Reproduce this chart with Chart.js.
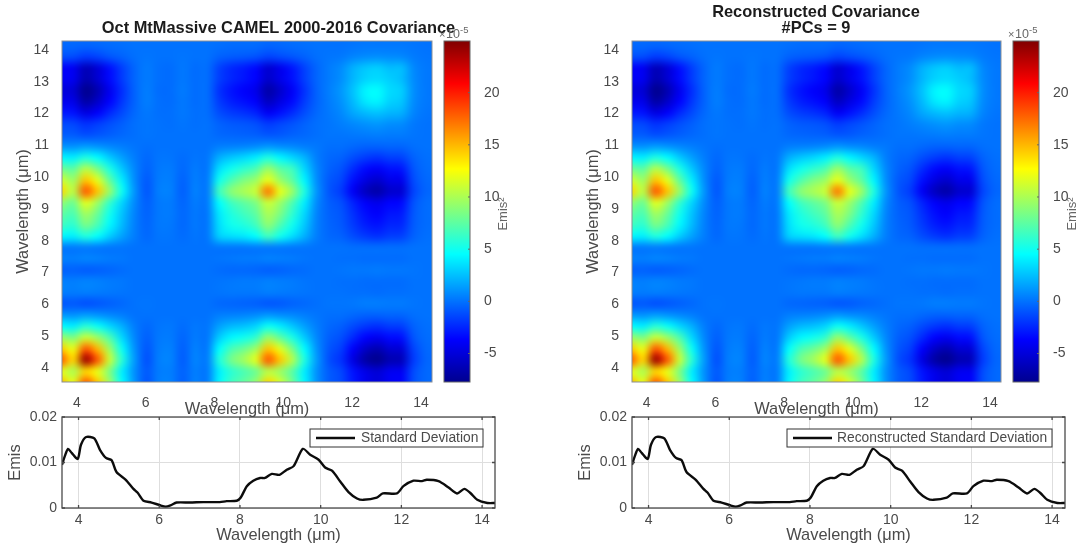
<!DOCTYPE html>
<html>
<head>
<meta charset="utf-8">
<title>CAMEL covariance</title>
<script src="https://cdn.jsdelivr.net/npm/chart.js@4"></script>
<style>
html, body { margin: 0; padding: 0; background: #fff; }
#page { position: relative; width: 1082px; height: 550px; overflow: hidden; }
canvas { position: absolute; filter: blur(0.65px); }
</style>
</head>
<body>
<div id="page"></div>
<script>
// Wavelength of each covariance cell (um), same on both axes
const cellWavelengths = [3.543, 3.896, 4.25, 4.603, 4.956, 5.31, 5.663, 6.016, 6.37, 6.723, 7.076, 7.43, 7.783, 8.136, 8.49, 8.843, 9.196, 9.55, 9.903, 10.256, 10.61, 10.963, 11.316, 11.67, 12.023, 12.376, 12.73, 13.083, 13.436, 13.79, 14.143];

// Covariance, x 1e-5, one row per wavelength
const covOriginal = [
[15,12,18,14.5,9.5,4.5,1.2,-1,.4,.5,-.6,.5,.2,4.3,6.5,7.6,9.2,14,11.3,8.1,4.3,1.1,-.7,-1.3,-2.9,-4.3,-5,-4,-3.8,-1.1,-.3],
[12,10,14,12,8.5,4,1,-.8,.3,.4,-.5,.4,.2,4,5.9,6.9,8,10.5,9.5,7.4,4,1,-.7,-1.4,-3.1,-4.5,-5.2,-4.2,-4.1,-1.2,-.3],
[18,14,24,18,11,5.8,1.4,-1.1,.4,.6,-.7,.6,.3,5.5,8.3,9.7,11.8,18,14.6,10.4,5.5,1.4,-1.1,-2.1,-4.7,-6.9,-8,-6.5,-6.2,-1.8,-.4],
[14.5,12,18,15,9.5,4.8,1.1,-.9,.3,.5,-.6,.5,.2,4.5,6.8,7.9,9.6,14.6,11.8,8.4,4.5,1.1,-.9,-1.7,-3.8,-5.6,-6.5,-5.3,-5.1,-1.5,-.3],
[9.5,8.5,11,9.5,7,3.3,.7,-.6,.2,.3,-.4,.3,.1,2.9,4.3,5,6.1,9.4,7.6,5.4,2.9,.7,-.6,-1.1,-2.4,-3.6,-4.2,-3.4,-3.2,-.9,-.2],
[4.5,4,5.8,4.8,3.3,2,.4,-.3,.1,.2,-.2,.2,.1,1.5,2.3,2.6,3.2,4.9,4,2.8,1.5,.4,-.3,-.6,-1.3,-1.9,-2.2,-1.8,-1.7,-.5,-.1],
[1.2,1,1.4,1.1,.7,.4,0,0,0,0,0,0,0,.4,.5,.6,.8,1.2,.9,.7,.4,.1,-.1,-.1,-.3,-.5,-.5,-.4,-.4,-.1,0],
[-1,-.8,-1.1,-.9,-.6,-.3,0,.1,0,0,0,0,0,-.3,-.4,-.5,-.6,-.9,-.8,-.5,-.3,-.1,.1,.1,.2,.4,.4,.3,.3,.1,0],
[.4,.3,.4,.3,.2,.1,0,0,0,0,0,0,0,.1,.2,.2,.2,.4,.3,.2,.1,0,0,0,-.1,-.1,-.2,-.1,-.1,0,0],
[.5,.4,.6,.5,.3,.2,0,0,0,0,0,0,0,.1,.2,.3,.3,.5,.4,.3,.1,0,0,-.1,-.1,-.2,-.2,-.2,-.2,0,0],
[-.6,-.5,-.7,-.6,-.4,-.2,0,0,0,0,0,0,0,-.2,-.3,-.3,-.4,-.6,-.5,-.3,-.2,0,0,.1,.2,.2,.3,.2,.2,.1,0],
[.5,.4,.6,.5,.3,.2,0,0,0,0,0,0,0,.1,.2,.3,.3,.5,.4,.3,.1,0,0,-.1,-.1,-.2,-.2,-.2,-.2,0,0],
[.2,.2,.3,.2,.1,.1,0,0,0,0,0,0,0,.1,.1,.1,.2,.2,.2,.1,.1,0,0,0,-.1,-.1,-.1,-.1,-.1,0,0],
[4.3,4,5.5,4.5,2.9,1.5,.4,-.3,.1,.1,-.2,.1,.1,3,3.5,3.8,4.5,6.5,5,3.5,2,.4,-.3,-.5,-1.2,-1.8,-2.1,-1.7,-1.6,-.5,-.1],
[6.5,5.9,8.3,6.8,4.3,2.3,.5,-.4,.2,.2,-.3,.2,.1,3.5,5,5.5,6.5,9,7,5,2.8,.5,-.4,-.8,-1.8,-2.7,-3.1,-2.5,-2.4,-.7,-.2],
[7.6,6.9,9.7,7.9,5,2.6,.6,-.5,.2,.3,-.3,.2,.1,3.8,5.5,6.5,7.5,10,8.5,6,3.3,.6,-.5,-.9,-2.1,-3.2,-3.7,-3,-2.8,-.8,-.2],
[9.2,8,11.8,9.6,6.1,3.2,.8,-.6,.2,.3,-.4,.3,.2,4.5,6.5,7.5,8.5,11,9.5,7,4,.8,-.6,-1.1,-2.6,-3.8,-4.4,-3.6,-3.4,-1,-.2],
[14,10.5,18,14.6,9.4,4.9,1.2,-.9,.4,.5,-.6,.5,.2,6.5,9,10,11,17,12,9.5,5.5,1.2,-.9,-1.8,-4,-5.9,-6.8,-5.5,-5.3,-1.5,-.4],
[11.3,9.5,14.6,11.8,7.6,4,.9,-.8,.3,.4,-.5,.4,.2,5,7,8.5,9.5,12,9.5,7.5,4.3,.9,-.8,-1.4,-3.2,-4.7,-5.5,-4.4,-4.3,-1.2,-.3],
[8.1,7.4,10.4,8.4,5.4,2.8,.7,-.5,.2,.3,-.3,.3,.1,3.5,5,6,7,9.5,7.5,6.5,3.3,.7,-.5,-1,-2.3,-3.4,-3.9,-3.2,-3,-.9,-.2],
[4.3,4,5.5,4.5,2.9,1.5,.4,-.3,.1,.1,-.2,.1,.1,2,2.8,3.3,4,5.5,4.3,3.3,2.2,.4,-.3,-.5,-1.2,-1.8,-2.1,-1.7,-1.6,-.5,-.1],
[1.1,1,1.4,1.1,.7,.4,.1,-.1,0,0,0,0,0,.4,.5,.6,.8,1.2,.9,.7,.4,.2,-.1,-.1,-.3,-.5,-.5,-.4,-.4,-.1,0],
[-.7,-.7,-1.1,-.9,-.6,-.3,-.1,.1,0,0,0,0,0,-.3,-.4,-.5,-.6,-.9,-.8,-.5,-.3,-.1,.1,.1,.2,.3,.4,.3,.3,.1,0],
[-1.3,-1.4,-2.1,-1.7,-1.1,-.6,-.1,.1,0,-.1,.1,-.1,0,-.5,-.8,-.9,-1.1,-1.8,-1.4,-1,-.5,-.1,.1,.4,.7,1,1.2,.9,.8,.2,0],
[-2.9,-3.1,-4.7,-3.8,-2.4,-1.3,-.3,.2,-.1,-.1,.2,-.1,-.1,-1.2,-1.8,-2.1,-2.6,-4,-3.2,-2.3,-1.2,-.3,.2,.7,1.7,2.3,2.6,2.2,2,.6,.1],
[-4.3,-4.5,-6.9,-5.6,-3.6,-1.9,-.5,.4,-.1,-.2,.2,-.2,-.1,-1.8,-2.7,-3.2,-3.8,-5.9,-4.7,-3.4,-1.8,-.5,.3,1,2.3,3.8,4.2,3.1,2.7,.8,.2],
[-5,-5.2,-8,-6.5,-4.2,-2.2,-.5,.4,-.2,-.2,.3,-.2,-.1,-2.1,-3.1,-3.7,-4.4,-6.8,-5.5,-3.9,-2.1,-.5,.4,1.2,2.6,4.2,4.6,3.4,3,.9,.2],
[-4,-4.2,-6.5,-5.3,-3.4,-1.8,-.4,.3,-.1,-.2,.2,-.2,-.1,-1.7,-2.5,-3,-3.6,-5.5,-4.4,-3.2,-1.7,-.4,.3,.9,2.2,3.1,3.4,3,2.4,.8,.2],
[-3.8,-4.1,-6.2,-5.1,-3.2,-1.7,-.4,.3,-.1,-.2,.2,-.2,-.1,-1.6,-2.4,-2.8,-3.4,-5.3,-4.3,-3,-1.6,-.4,.3,.8,2,2.7,3,2.4,2.4,.7,.2],
[-1.1,-1.2,-1.8,-1.5,-.9,-.5,-.1,.1,0,0,.1,0,0,-.5,-.7,-.8,-1,-1.5,-1.2,-.9,-.5,-.1,.1,.2,.6,.8,.9,.8,.7,.3,.1],
[-.3,-.3,-.4,-.3,-.2,-.1,0,0,0,0,0,0,0,-.1,-.2,-.2,-.2,-.4,-.3,-.2,-.1,0,0,0,.1,.2,.2,.2,.2,.1,0]
];
const covReconstructed = covOriginal;

// Standard deviation curve
const stdWavelengths = [3.59,3.66,3.74,3.83,3.98,4.06,4.19,4.39,4.53,4.68,4.82,4.94,5.17,5.36,5.46,5.61,5.81,6.02,6.16,6.28,6.43,6.76,7.09,7.5,7.67,7.92,8.02,8.17,8.33,8.5,8.62,8.79,8.98,9.16,9.33,9.56,9.74,9.95,10.11,10.28,10.48,10.69,10.9,11.06,11.39,11.54,11.89,12.05,12.3,12.51,12.63,12.92,13.17,13.38,13.56,13.71,13.88,14.13,14.34];
const stdOriginal = [.0095,.0114,.013,.0121,.0108,.0139,.0156,.0153,.0128,.011,.0105,.0079,.0062,.0042,.0034,.0016,.0012,.0006,.0003,.0006,.0012,.0012,.0013,.0013,.0015,.0016,.0023,.0048,.006,.0066,.0066,.0075,.0073,.0084,.0092,.013,.0117,.0106,.0089,.0082,.0059,.0035,.0021,.0018,.0023,.0032,.0032,.0048,.006,.0059,.0062,.0059,.0045,.0032,.0042,.0033,.0018,.0011,.0011];
const stdReconstructed = stdOriginal;

const heatXTicks = [4, 6, 8, 10, 12, 14];
const heatYTicks = [4, 5, 6, 7, 8, 9, 10, 11, 12, 13, 14];
const lineXTicks = [4, 6, 8, 10, 12, 14];
const lineYTicks = [0, 0.01, 0.02];
const colorbarTicks = [-5, 0, 5, 10, 15, 20];
const colorMin = -7.73;
const colorMax = 24.95;

Chart.defaults.font.family = '"Liberation Sans", Arial, sans-serif';
Chart.defaults.animation = false;
Chart.defaults.responsive = false;
Chart.defaults.plugins.legend.display = false;
Chart.defaults.plugins.tooltip.enabled = false;

const TICK_GREY = '#4a4a4a';

// MATLAB jet
const jetStops = [[0, 0, 0, 143], [0.125, 0, 0, 255], [0.375, 0, 255, 255], [0.625, 255, 255, 0], [0.875, 255, 0, 0], [1, 128, 0, 0]];
const jetRGB = (value) => {
    const t = Math.min(1, Math.max(0, (value - colorMin) / (colorMax - colorMin)));
    for (let i = 1; i < jetStops.length; i++) {
        const a = jetStops[i - 1], b = jetStops[i];
        if (t <= b[0]) {
            const f = (t - a[0]) / (b[0] - a[0]);
            return [1, 2, 3].map(k => Math.round(a[k] + (b[k] - a[k]) * f));
        }
    }
    return [128, 0, 0];
};
const jetCss = (value) => 'rgb(' + jetRGB(value).join(',') + ')';

const addCanvas = (left, top, width, height) => {
    const c = document.createElement('canvas');
    c.width = width;
    c.height = height;
    c.style.left = left + 'px';
    c.style.top = top + 'px';
    document.getElementById('page').appendChild(c);
    return c.getContext('2d');
};

const fixedTicks = (values) => (scale) => { scale.ticks = values.map(value => ({ value })); };

// box around the plot plus the short ticks MATLAB draws inside it
const framePlugin = {
    id: 'frame',
    afterDraw(chart, args, opts) {
        const { ctx, chartArea: a, scales } = chart;
        ctx.save();
        ctx.strokeStyle = opts.color;
        ctx.lineWidth = opts.width;
        ctx.strokeRect(a.left, a.top, a.right - a.left, a.bottom - a.top);
        const len = opts.tick || 0;
        if (len && scales.x && scales.x.type === 'linear') {
            scales.x.ticks.forEach(t => {
                const px = scales.x.getPixelForValue(t.value);
                ctx.beginPath();
                ctx.moveTo(px, a.bottom); ctx.lineTo(px, a.bottom - len);
                ctx.moveTo(px, a.top); ctx.lineTo(px, a.top + len);
                ctx.stroke();
            });
        }
        if (len) {
            scales.y.ticks.forEach(t => {
                const py = scales.y.getPixelForValue(t.value);
                ctx.beginPath();
                ctx.moveTo(a.right, py); ctx.lineTo(a.right - len, py);
                if (!opts.rightOnly) { ctx.moveTo(a.left, py); ctx.lineTo(a.left + len, py); }
                ctx.stroke();
            });
        }
        ctx.restore();
    }
};

// the picture is interpolated: repaint the cells smoothly, placed with the chart's scales
const smoothPlugin = {
    id: 'smoothCells',
    afterDatasetsDraw(chart, args, opts) {
        const n = opts.wavelengths.length;
        const small = document.createElement('canvas');
        small.width = n;
        small.height = n;
        const sctx = small.getContext('2d');
        const img = sctx.createImageData(n, n);
        opts.matrix.forEach((row, r) => row.forEach((v, c) => {
            const rgb = jetRGB(v);
            const o = ((n - 1 - r) * n + c) * 4;
            img.data[o] = rgb[0]; img.data[o + 1] = rgb[1]; img.data[o + 2] = rgb[2]; img.data[o + 3] = 255;
        }));
        sctx.putImageData(img, 0, 0);
        const half = (opts.wavelengths[1] - opts.wavelengths[0]) / 2;
        const lo = opts.wavelengths[0] - half, hi = opts.wavelengths[n - 1] + half;
        const { ctx, chartArea: a, scales } = chart;
        const x0 = scales.x.getPixelForValue(lo), x1 = scales.x.getPixelForValue(hi);
        const y0 = scales.y.getPixelForValue(hi), y1 = scales.y.getPixelForValue(lo);
        ctx.save();
        ctx.beginPath();
        ctx.rect(a.left, a.top, a.right - a.left, a.bottom - a.top);
        ctx.clip();
        ctx.imageSmoothingEnabled = true;
        ctx.imageSmoothingQuality = 'high';
        ctx.drawImage(small, x0, y0, x1 - x0, y1 - y0);
        ctx.restore();
    }
};

// legend box sits over the axes like the MATLAB one
const legendPlugin = {
    id: 'boxLegend',
    afterDraw(chart, args, opts) {
        const { ctx } = chart;
        const ds = chart.data.datasets[0];
        ctx.save();
        ctx.fillStyle = '#fff';
        ctx.strokeStyle = '#333';
        ctx.lineWidth = 1;
        ctx.fillRect(opts.x0, opts.y0, opts.x1 - opts.x0, opts.y1 - opts.y0);
        ctx.strokeRect(opts.x0, opts.y0, opts.x1 - opts.x0, opts.y1 - opts.y0);
        const midY = (opts.y0 + opts.y1) / 2;
        ctx.strokeStyle = ds.borderColor;
        ctx.lineWidth = ds.borderWidth;
        ctx.beginPath();
        ctx.moveTo(opts.x0 + 6, midY);
        ctx.lineTo(opts.x0 + 45, midY);
        ctx.stroke();
        ctx.fillStyle = TICK_GREY;
        ctx.font = '13.8px "Liberation Sans"';
        ctx.textBaseline = 'middle';
        ctx.fillText(ds.label, opts.x0 + opts.textOffset, midY);
        ctx.restore();
    }
};

// x10^-5 above the colorbar and Emis^2 beside it
const colorbarTextPlugin = {
    id: 'colorbarText',
    afterDraw(chart) {
        const { ctx } = chart;
        ctx.save();
        ctx.fillStyle = '#666';
        ctx.textBaseline = 'alphabetic';
        ctx.font = '11px "Liberation Sans"';
        ctx.fillText('×', 4, 38);
        ctx.font = '12.5px "Liberation Sans"';
        ctx.fillText('10', 11, 38);
        ctx.font = '9.5px "Liberation Sans"';
        ctx.fillText('-5', 25, 33);
        ctx.translate(72, 214);
        ctx.rotate(-Math.PI / 2);
        ctx.textAlign = 'center';
        ctx.font = '13px "Liberation Sans"';
        ctx.fillText('Emis²', 0, 0);
        ctx.restore();
    }
};

const heatChart = (left, width, padRight, title, titlePadTop, titlePadBottom, matrix) => {
    const cells = [];
    const colors = [];
    matrix.forEach((row, r) => row.forEach((v, c) => {
        cells.push({ x: cellWavelengths[c], y: cellWavelengths[r] });
        colors.push(jetCss(v));
    }));
    return new Chart(addCanvas(left, 0, width, 420), {
        type: 'scatter',
        data: {
            datasets: [{
                label: 'Covariance',
                data: cells,
                pointStyle: 'rect',
                pointRadius: 10.5,
                pointBorderWidth: 0,
                pointBackgroundColor: colors
            }]
        },
        options: {
            layout: { autoPadding: false },
            plugins: {
                title: {
                    display: true,
                    text: title,
                    color: '#1c1c1c',
                    font: { size: 16.4, weight: 'bold', lineHeight: 1 },
                    padding: { top: titlePadTop, bottom: titlePadBottom }
                },
                smoothCells: { matrix, wavelengths: cellWavelengths },
                frame: { color: '#8a8f96', width: 1 }
            },
            scales: {
                x: {
                    type: 'linear', min: 3.57, max: 14.32,
                    afterBuildTicks: fixedTicks(heatXTicks),
                    afterFit: (s) => { s.height = 38; },
                    grid: { display: false }, border: { display: false },
                    ticks: { color: TICK_GREY, font: { size: 14 }, padding: 5, maxRotation: 0, autoSkip: false },
                    title: { display: true, text: 'Wavelength (μm)', color: TICK_GREY, font: { size: 16.4 }, padding: { top: 0, bottom: 1 } }
                },
                y: {
                    type: 'linear', min: 3.56, max: 14.28,
                    afterBuildTicks: fixedTicks(heatYTicks),
                    afterFit: (s) => { s.width = 62; },
                    grid: { display: false }, border: { display: false },
                    ticks: { color: TICK_GREY, font: { size: 14 }, padding: 5, autoSkip: false },
                    title: { display: true, text: 'Wavelength (μm)', color: TICK_GREY, font: { size: 16.4 }, padding: { top: 14, bottom: 0 } }
                },
                // empty axis keeps room for the colorbar so the title centres on the whole canvas
                spacer: {
                    type: 'linear', position: 'right',
                    afterFit: (s) => { s.width = padRight; },
                    grid: { display: false }, border: { display: false },
                    ticks: { display: false }
                }
            }
        },
        plugins: [smoothPlugin, framePlugin]
    });
};

const colorbarChart = (left) => new Chart(addCanvas(left, 0, 76, 420), {
    type: 'bar',
    data: {
        labels: ['colour'],
        datasets: [{
            label: 'Emis²',
            data: [[colorMin, colorMax]],
            barPercentage: 1,
            categoryPercentage: 1,
            borderWidth: 0,
            backgroundColor: (context) => {
                const area = context.chart.chartArea;
                if (!area) return '#000';
                const g = context.chart.ctx.createLinearGradient(0, area.bottom, 0, area.top);
                jetStops.forEach(s => g.addColorStop(s[0], `rgb(${s[1]},${s[2]},${s[3]})`));
                return g;
            }
        }]
    },
    options: {
        layout: { autoPadding: false, padding: { left: 9, top: 41, bottom: 38 } },
        plugins: { frame: { color: '#666', width: 1, tick: 2, rightOnly: true } },
        scales: {
            x: { display: false },
            y: {
                position: 'right', min: colorMin, max: colorMax,
                afterBuildTicks: fixedTicks(colorbarTicks),
                afterFit: (s) => { s.width = 41; },
                grid: { display: false }, border: { display: false },
                ticks: { color: TICK_GREY, font: { size: 14 }, padding: 6, autoSkip: false }
            }
        }
    },
    plugins: [framePlugin, colorbarTextPlugin]
});

const lineChart = (left, label, values, legendBox) => new Chart(addCanvas(left, 400, 510, 150), {
    type: 'scatter',
    data: {
        datasets: [{
            label,
            data: stdWavelengths.map((w, i) => ({ x: w, y: values[i] })),
            showLine: true,
            borderColor: '#0c0c0c',
            borderWidth: 2.4,
            tension: 0.25,
            pointRadius: 0
        }]
    },
    options: {
        layout: { autoPadding: false, padding: { right: 15, top: 17 } },
        plugins: { frame: { color: '#4a4a4a', width: 1.3, tick: 3 }, boxLegend: legendBox },
        scales: {
            x: {
                type: 'linear', min: 3.59, max: 14.32,
                afterBuildTicks: fixedTicks(lineXTicks),
                afterFit: (s) => { s.height = 42; },
                grid: { color: '#dedede', drawTicks: false }, border: { display: false },
                ticks: { color: TICK_GREY, font: { size: 14 }, padding: 4, maxRotation: 0, autoSkip: false },
                title: { display: true, text: 'Wavelength (μm)', color: TICK_GREY, font: { size: 16.4 }, padding: { top: 0, bottom: 5 } }
            },
            y: {
                type: 'linear', min: 0, max: 0.02,
                afterBuildTicks: fixedTicks(lineYTicks),
                afterFit: (s) => { s.width = 62; },
                grid: { color: '#dedede', drawTicks: false }, border: { display: false },
                ticks: {
                    color: TICK_GREY, font: { size: 14 }, padding: 5, autoSkip: false,
                    callback: (v) => v === 0 ? '0' : v.toFixed(2)
                },
                title: { display: true, text: 'Emis', color: TICK_GREY, font: { size: 16.4 }, padding: { top: 6, bottom: 0 } }
            }
        }
    },
    plugins: [framePlugin, legendPlugin]
});

heatChart(0, 557, 125, 'Oct MtMassive CAMEL 2000-2016 Covariance', 20, 4.6, covOriginal);
colorbarChart(435);
lineChart(0, 'Standard Deviation', stdOriginal, { x0: 310, x1: 483, y0: 29, y1: 47, textOffset: 51 });

heatChart(570, 492, 61, ['Reconstructed Covariance', '#PCs = 9'], 4, 4.2, covReconstructed);
colorbarChart(1004);
lineChart(570, 'Reconstructed Standard Deviation', stdReconstructed, { x0: 217, x1: 482, y0: 29, y1: 47, textOffset: 50 });
</script>
</body>
</html>
